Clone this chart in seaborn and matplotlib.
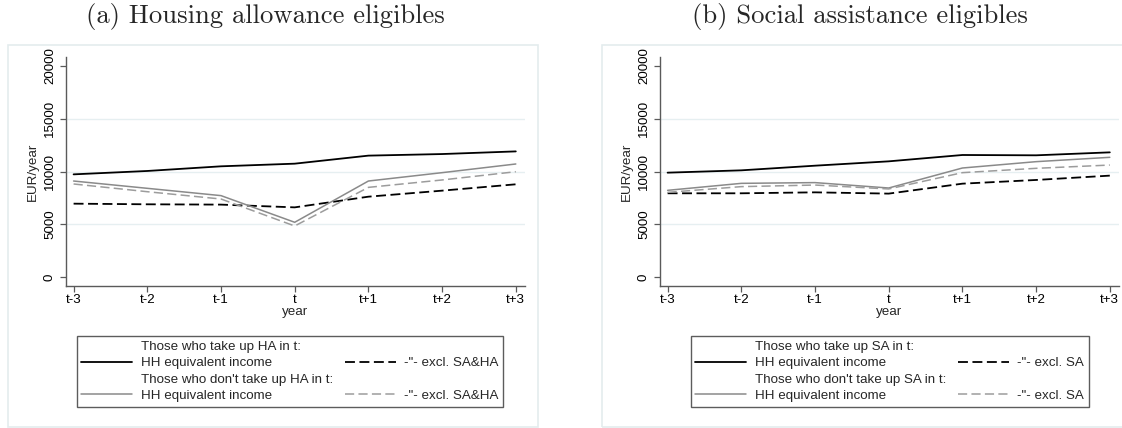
import matplotlib
matplotlib.use("Agg")
import matplotlib.pyplot as plt
import seaborn as sns
import pandas as pd
from matplotlib.lines import Line2D
from matplotlib.patches import Rectangle

years = ["t-3", "t-2", "t-1", "t", "t+1", "t+2", "t+3"]
yticks = [0, 5000, 10000, 15000, 20000]

# Panel (a) Housing allowance eligibles
ha_take_income = [9730, 10050, 10490, 10740, 11500, 11650, 11900]
ha_take_excl = [6960, 6900, 6870, 6610, 7620, 8190, 8790]
ha_not_income = [9100, 8410, 7720, 5200, 9100, 9890, 10710]
ha_not_excl = [8820, 8090, 7400, 4850, 8500, 9200, 9980]

# Panel (b) Social assistance eligibles
sa_take_income = [9890, 10110, 10550, 10960, 11560, 11530, 11810]
sa_take_excl = [7940, 7940, 8030, 7910, 8850, 9200, 9610]
sa_not_income = [8220, 8880, 8950, 8440, 10330, 10930, 11340]
sa_not_excl = [8030, 8570, 8720, 8350, 9890, 10300, 10610]

titles = ["(a) Housing allowance eligibles", "(b) Social assistance eligibles"]
legend_labels_a = ["Those who take up HA in t:", "HH equivalent income",
                   "Those who don't take up HA in t:", "HH equivalent income",
                   "", '-"- excl. SA&HA', "", '-"- excl. SA&HA']
legend_labels_b = ["Those who take up SA in t:", "HH equivalent income",
                   "Those who don't take up SA in t:", "HH equivalent income",
                   "", '-"- excl. SA', "", '-"- excl. SA']

sns.set_theme(style="white")
plt.rcParams["font.family"] = ["Liberation Sans", "DejaVu Sans"]

W, H = 1122, 428
fig = plt.figure(figsize=(W / 100, H / 100), dpi=100)

BLACK = "#000000"
GRAY = "#8a8a8a"
GRAYD = "#9c9c9c"
AXC = "#5a5a5a"
GRID = "#e6eff1"
FRAME = "#e4ecee"
FS = 9.6

def px2fx(x):
    return x / W

def px2fy(y):
    return 1 - y / H

panels = [
    dict(off=0.0, data=[ha_take_income, ha_take_excl, ha_not_income, ha_not_excl],
         labels=legend_labels_a, title=titles[0], legx=289.9),
    dict(off=594.0, data=[sa_take_income, sa_take_excl, sa_not_income, sa_not_excl],
         labels=legend_labels_b, title=titles[1], legx=889.8),
]

styles = [
    dict(color=BLACK, ls="-", lw=1.3),
    dict(color=BLACK, ls=(0, (5.5, 2.5)), lw=1.3),
    dict(color=GRAY, ls="-", lw=1.1),
    dict(color=GRAYD, ls=(0, (6, 2.8)), lw=1.1),
]

ax_left_px, ax_right_px = 65.7, 524.8
ax_top_px, ax_bot_px = 56.7, 286.0
x0_px, x6_px = 73.6, 515.8
y0_px, y20_px = 277.3, 65.7

# title font size fitted to the reference title width (~359 px)
probe = fig.text(0, 0, titles[0], fontsize=20, family=["cmr10", "DejaVu Serif"])
fig.canvas.draw()
tw = probe.get_window_extent().width
probe.remove()
TITLE_FS = 20 * 359.0 / tw

for p in panels:
    off = p["off"]
    fig.patches.append(Rectangle((px2fx(8 + off), px2fy(427)),
                                 (538 - 8) / W, (427 - 45) / H,
                                 transform=fig.transFigure, fill=False,
                                 edgecolor=FRAME, lw=1.2, zorder=0))
    ax = fig.add_axes([px2fx(ax_left_px + off), px2fy(ax_bot_px),
                       (ax_right_px - ax_left_px) / W, (ax_bot_px - ax_top_px) / H])
    xs = list(range(len(years)))
    for series, st in zip(p["data"], styles):
        df = pd.DataFrame({"x": xs, "y": series})
        sns.lineplot(data=df, x="x", y="y", ax=ax, color=st["color"],
                     linestyle=st["ls"], linewidth=st["lw"], sort=False)
    upx = (x6_px - x0_px) / 6
    ax.set_xlim(-(x0_px - ax_left_px) / upx, 6 + (ax_right_px - x6_px) / upx)
    upy = (y0_px - y20_px) / 20000
    ax.set_ylim(-(ax_bot_px - y0_px) / upy, 20000 + (y20_px - ax_top_px) / upy)
    ax.set_xticks(xs)
    ax.set_xticklabels(years, fontsize=FS)
    ax.set_yticks(yticks)
    ax.set_yticklabels([str(v) for v in yticks], fontsize=FS, rotation=90, va="center")
    for v in yticks[1:-1]:
        ax.axhline(v, color=GRID, lw=1.0, zorder=0)
    ax.set_xlabel("year", fontsize=FS, labelpad=0)
    ax.set_ylabel("EUR/year", fontsize=FS, labelpad=4)
    for s in ["top", "right"]:
        ax.spines[s].set_visible(False)
    for s in ["left", "bottom"]:
        ax.spines[s].set_color(AXC)
        ax.spines[s].set_linewidth(1.0)
    ax.tick_params(axis="both", which="major", length=4, width=0.9, color=AXC,
                   direction="out", pad=2, labelcolor="black", bottom=True, left=True)
    ax.tick_params(axis="y", pad=3)
    ax.set_facecolor("none")

    def mk(st):
        return Line2D([], [], color=st["color"], linestyle=st["ls"], linewidth=st["lw"])
    blank = Line2D([], [], ls="none")
    handles = [blank, mk(styles[0]), blank, mk(styles[2]),
               blank, mk(styles[1]), blank, mk(styles[3])]
    leg = fig.legend(handles, p["labels"], ncol=2, loc="upper center",
                     bbox_to_anchor=(px2fx(p["legx"]), px2fy(329.3)),
                     bbox_transform=fig.transFigure, fontsize=FS,
                     frameon=True, fancybox=False, edgecolor="#333333",
                     handlelength=3.8, handletextpad=0.65, columnspacing=0.9,
                     labelspacing=0.3, borderpad=0.35)
    leg.get_frame().set_linewidth(1.0)
    fig.text(px2fx(265.6 + off), px2fy(17), p["title"], ha="center", va="center",
             fontsize=TITLE_FS, family=["cmr10", "DejaVu Serif"])

fig.savefig("out.png", dpi=100)
